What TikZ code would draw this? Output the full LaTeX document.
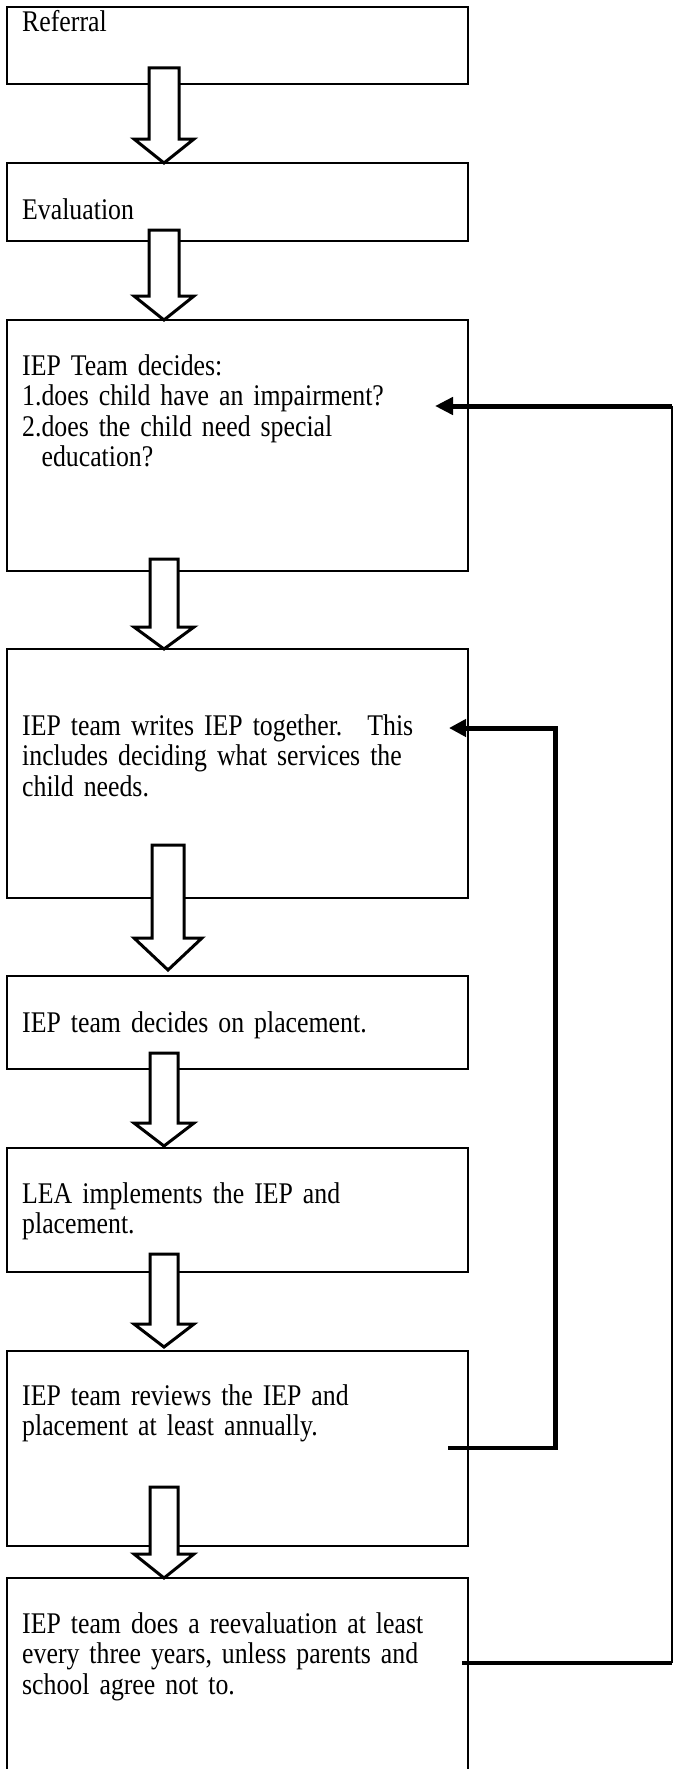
\documentclass[tikz,border=0pt]{standalone}
\usepackage{fontspec}
\setmainfont{Liberation Serif}[FakeStretch = 0.86]
\usetikzlibrary{calc,arrows.meta}
\newcommand\stagefont{\fontsize{30}{30.5}\selectfont\spaceskip=4.6pt\relax}

\begin{document}
\begin{tikzpicture}[x = 1pt, y = -1pt,
		stagebox/.style = {draw, line width = 1.8pt, anchor = north west, minimum width = 461pt, inner sep = 0pt, outer sep = 0pt},
		stagetext/.style = {anchor = base west, align = left, text width = 445pt, inner sep = 0pt, font = \stagefont},
		bigarrow/.style = {draw, fill = white, line width = 3pt, line join = miter},
		loopline/.style = {line width = 5pt, line join = miter}]
		\useasboundingbox (0,0) rectangle (673,1769);
		\fill[white] (0,0) rectangle (673,1769);
		\clip (0,0) rectangle (673,1769);
		\node[stagebox, minimum height = 77pt] (b1) at (7,7) {};
		\node[stagebox, minimum height = 78pt] (b2) at (7,163) {};
		\node[stagebox, minimum height = 251pt] (b3) at (7,320) {};
		\node[stagebox, minimum height = 249pt] (b4) at (7,649) {};
		\node[stagebox, minimum height = 93pt] (b5) at (7,976) {};
		\node[stagebox, minimum height = 124pt] (b6) at (7,1148) {};
		\node[stagebox, minimum height = 195pt] (b7) at (7,1351) {};
		\node[stagebox, minimum height = 240pt] (b8) at (7,1578) {};
		\node[stagetext] (t1) at ($(b1.north west)+(15,25)$) {Referral};
		\node[stagetext] (t2) at ($(b2.north west)+(15,56)$) {Evaluation};
		\node[stagetext] (t3) at ($(b3.north west)+(15,55)$) {IEP Team decides:\\1.does child have an impairment?\\2.does the child need special\\\phantom{2.}education?};
		\node[stagetext] (t4) at ($(b4.north west)+(15,86)$) {IEP team writes IEP together.~ This\\includes deciding what services the\\child needs.};
		\node[stagetext] (t5) at ($(b5.north west)+(15,56)$) {IEP team decides on placement.};
		\node[stagetext] (t6) at ($(b6.north west)+(15,55)$) {LEA implements the IEP and\\placement.};
		\node[stagetext] (t7) at ($(b7.north west)+(15,54)$) {IEP team reviews the IEP and\\placement at least annually.};
		\node[stagetext] (t8) at ($(b8.north west)+(15,55)$) {IEP team does a reevaluation at least\\every three years, unless parents and\\school agree not to.};
		\foreach \ya/\nxt/\cx/\sw/\hw/\hlen/\gap in {68/b2/164/15/30/24/0, 230/b3/164/15/30/24/0, 559/b4/164/14/30/22/0, 845/b5/168/16/34/32/6, 1053/b6/164/14/30/23/2, 1254/b7/164/14/30/23/4, 1487/b8/164/14/30/24/0}{
			\coordinate (tip) at ($(\cx,0 |- \nxt.north)+(0,-\gap)$);
			\draw[bigarrow] (\cx-\sw,\ya) -- ($(tip)+(-\sw,-\hlen)$) -- ($(tip)+(-\hw,-\hlen)$) -- (tip)
				-- ($(tip)+(\hw,-\hlen)$) -- ($(tip)+(\sw,-\hlen)$) -- (\cx+\sw,\ya) -- cycle;
			}
		\coordinate (o1) at (462,1663);
		\coordinate (o2) at (672,1663);
		\coordinate (o3) at (672,406);
		\coordinate (o4) at (435,406);
		\draw[line width = 4pt] (o1) -- (o2);
		\draw[line width = 1.8pt] (o2) -- (o3);
		\draw[loopline, -{Triangle[length = 18pt, width = 17pt]}] (o3) -- (o4);
		\coordinate (i1) at (448,1448);
		\coordinate (i2) at (555,1448);
		\coordinate (i3) at (555,728);
		\coordinate (i4) at (449,728);
		\draw[line width = 3.5pt, shorten > = -2.5pt] (i1) -- (i2);
		\draw[loopline, -{Triangle[length = 17pt, width = 17pt]}] (i2) -- (i3) -- (i4);
\end{tikzpicture}
\end{document}
